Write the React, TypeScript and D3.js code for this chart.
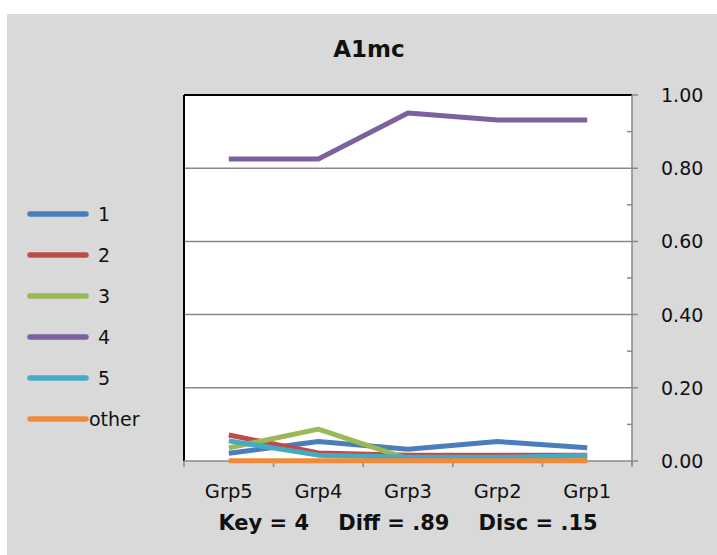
import React from "react";
import * as d3 from "d3";

const groups = ["Grp5", "Grp4", "Grp3", "Grp2", "Grp1"];
const seriesNames = ["1", "2", "3", "4", "5", "other"];
const s1 = [0.021, 0.053, 0.032, 0.053, 0.036];
const s2 = [0.071, 0.022, 0.016, 0.016, 0.016];
const s3 = [0.036, 0.087, 0.006, 0.005, 0.005];
const s4 = [0.825, 0.825, 0.951, 0.932, 0.932];
const s5 = [0.055, 0.016, 0.01, 0.01, 0.015];
const sOther = [0.001, 0.001, 0.001, 0.001, 0.001];
const colors = ["#4A7EBB", "#BE4B48", "#98B954", "#7D60A0", "#46AAC5", "#F08A3A"];
const yTicks = [0, 0.2, 0.4, 0.6, 0.8, 1.0];
const minorTicks = [0.1, 0.3, 0.5, 0.7, 0.9];
const title = "A1mc";
const footer = "Key = 4    Diff = .89    Disc = .15";

export default function App() {
  const W = 717, H = 555;
  const left = 184, right = 632, top = 95, bottom = 461;
  const x = d3.scaleBand<string>().domain(groups).range([left, right]);
  const y = d3.scaleLinear().domain([0, 1]).range([bottom, top]);
  const cx = (g: string) => (x(g) as number) + x.bandwidth() / 2;
  const all = [s1, s2, s3, s4, s5, sOther];
  const line = d3.line<number>().x((_, i) => cx(groups[i])).y((v) => y(v));
  const font = "'DejaVu Sans', Verdana, sans-serif";
  const legendY = d3.scalePoint<string>().domain(seriesNames).range([214, 419]);
  const grid = "#898989";
  return (
    <svg width={W} height={H} style={{ position: "absolute", left: 0, top: 0 }} fontFamily={font}>
      <rect x={0} y={0} width={W} height={H} fill="#fff" />
      <rect x={7} y={14} width={W - 7} height={H - 14} fill="#d9d9d9" />
      <text x={369} y={57} textAnchor="middle" fontSize={23} fontWeight="bold" fill="#111">{title}</text>
      <rect x={left} y={top} width={right - left} height={bottom - top} fill="#fff" />
      {yTicks.filter((t) => t > 0 && t < 1).map((t) => (
        <line key={t} x1={left} x2={right + 6} y1={y(t)} y2={y(t)} stroke={grid} strokeWidth={1.5} />
      ))}
      <line x1={left} x2={right} y1={y(1)} y2={y(1)} stroke="#000" strokeWidth={2} />
      <line x1={right} x2={right + 6} y1={y(1)} y2={y(1)} stroke={grid} strokeWidth={1.5} />
      <line x1={right} x2={right + 6} y1={y(0)} y2={y(0)} stroke={grid} strokeWidth={1.5} />
      <line x1={left} x2={left} y1={top} y2={bottom} stroke="#000" strokeWidth={2} />
      {minorTicks.map((t) => (
        <line key={t} x1={right - 5} x2={right} y1={y(t)} y2={y(t)} stroke={grid} strokeWidth={1.5} />
      ))}
      <line x1={right} x2={right} y1={top} y2={bottom + 4} stroke={grid} strokeWidth={1.5} />
      <line x1={left} x2={right} y1={bottom} y2={bottom} stroke={grid} strokeWidth={1.5} />
      {[...groups.map((g) => x(g) as number), right].map((xv, i) => (
        <line key={i} x1={xv} x2={xv} y1={bottom} y2={bottom + 6} stroke={grid} strokeWidth={1.5} />
      ))}
      {all.map((s, i) => (
        <path key={i} d={line(s) || ""} fill="none" stroke={colors[i]} strokeWidth={5} strokeLinejoin="round" />
      ))}
      {yTicks.map((t) => (
        <text key={t} x={661} y={y(t) + 7} fontSize={19} fill="#111">{t.toFixed(2)}</text>
      ))}
      {groups.map((g) => (
        <text key={g} x={cx(g)} y={498} textAnchor="middle" fontSize={19.5} fill="#111">{g}</text>
      ))}
      <text x={408} y={530} textAnchor="middle" fontSize={21} fontWeight="bold" fill="#111" style={{ whiteSpace: "pre" }}>{footer}</text>
      {seriesNames.map((n, i) => (
        <g key={n}>
          <line x1={30} x2={86} y1={legendY(n)} y2={legendY(n)} stroke={colors[i]} strokeWidth={5.5} strokeLinecap="round" />
          <text x={n === "other" ? 89 : 98} y={(legendY(n) as number) + 7} fontSize={19} fill="#111">{n}</text>
        </g>
      ))}
    </svg>
  );
}
